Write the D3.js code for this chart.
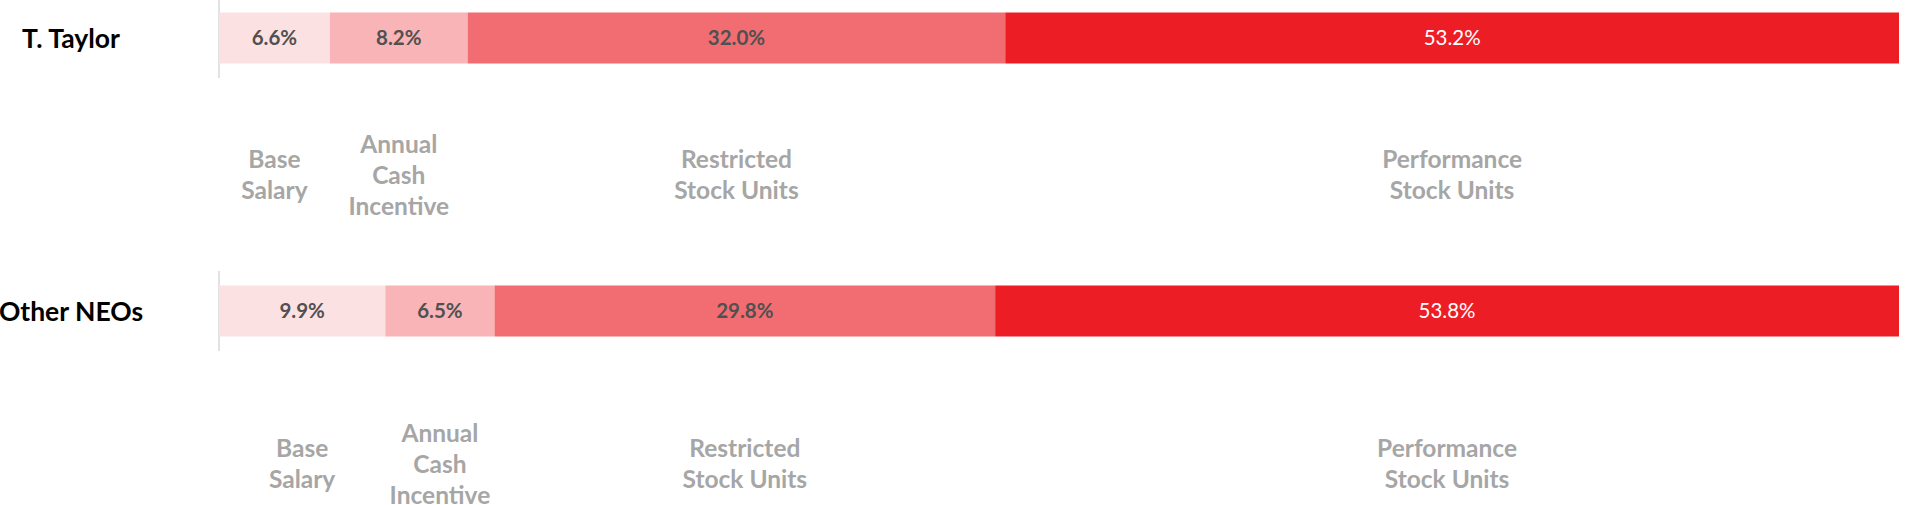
<!DOCTYPE html>
<html>
<head>
<meta charset="utf-8">
<script src="https://cdn.jsdelivr.net/npm/d3@7"></script>
<style>
  html, body { margin: 0; padding: 0; background: #ffffff; }
  svg { display: block; }
</style>
</head>
<body>
<div id="chart"></div>
<script>
// ---- data ----
const rows = ["T. Taylor", "Other NEOs"];
const components = ["Base Salary", "Annual Cash Incentive", "Restricted Stock Units", "Performance Stock Units"];
const componentLines = [["Base", "Salary"], ["Annual", "Cash", "Incentive"], ["Restricted", "Stock Units"], ["Performance", "Stock Units"]];
const taylorValues = [6.6, 8.2, 32.0, 53.2];
const otherNeoValues = [9.9, 6.5, 29.8, 53.8];
const seriesValues = [taylorValues, otherNeoValues];

// ---- layout / style ----
const W = 1905, H = 505;
const colors = ["#fce1e2", "#f8b4b7", "#f26d72", "#ed1d25"];
const labelColors = ["#505050", "#505050", "#505050", "#ffffff"];
const labelWeights = [700, 700, 700, 400];
const font = "Lato, 'Open Sans', sans-serif";

const svg = d3.select("#chart").append("svg").attr("width", W).attr("height", H);

const x = d3.scaleLinear().domain([0, 100]).range([219, 1899]);
const yBar = d3.scalePoint().domain(rows).range([38, 311]);
const yCat = d3.scalePoint().domain(rows).range([175, 464]);
const barH = 51;
const lineH = 31;

rows.forEach((row, ri) => {
  const vals = seriesValues[ri];
  const starts = d3.cumsum([0].concat(vals)).slice(0, vals.length);
  const segs = vals.map((v, i) => ({ v, i, s: starts[i], e: starts[i] + v }));
  const cy = yBar(row);
  const g = svg.append("g");

  // axis line
  g.append("line")
    .attr("x1", x(0)).attr("x2", x(0))
    .attr("y1", cy - 40).attr("y2", cy + 40)
    .attr("stroke", "#d9d9d9").attr("stroke-width", 1.5);

  g.selectAll("rect.seg").data(segs).join("rect")
    .attr("class", "seg")
    .attr("x", d => x(d.s))
    .attr("width", d => x(d.e) - x(d.s))
    .attr("y", cy - barH / 2)
    .attr("height", barH)
    .attr("fill", d => colors[d.i]);

  g.selectAll("text.val").data(segs).join("text")
    .attr("class", "val")
    .attr("x", d => (x(d.s) + x(d.e)) / 2)
    .attr("y", cy)
    .attr("dy", "0.36em")
    .attr("text-anchor", "middle")
    .attr("font-family", font)
    .attr("font-size", 20.5)
    .attr("font-weight", d => labelWeights[d.i])
    .attr("fill", d => labelColors[d.i])
    .text(d => d.v.toFixed(1) + "%");

  // row label
  g.append("text")
    .attr("x", 71)
    .attr("y", cy)
    .attr("dy", "0.36em")
    .attr("text-anchor", "middle")
    .attr("font-family", font)
    .attr("font-size", 26.5)
    .attr("font-weight", 700)
    .attr("fill", "#000000")
    .text(row);

  // category labels under each segment
  const cc = yCat(row);
  const cat = g.selectAll("text.cat").data(segs).join("text")
    .attr("class", "cat")
    .attr("text-anchor", "middle")
    .attr("font-family", font)
    .attr("font-size", 24.5)
    .attr("font-weight", 700)
    .attr("fill", "#a6a6a6");
  cat.each(function(d) {
    const lines = componentLines[d.i];
    const t = d3.select(this);
    const cxp = (x(d.s) + x(d.e)) / 2;
    lines.forEach((ln, li) => {
      t.append("tspan")
        .attr("x", cxp)
        .attr("y", cc + (li - (lines.length - 1) / 2) * lineH)
        .attr("dy", "0.36em")
        .text(ln);
    });
  });
});
</script>
</body>
</html>
